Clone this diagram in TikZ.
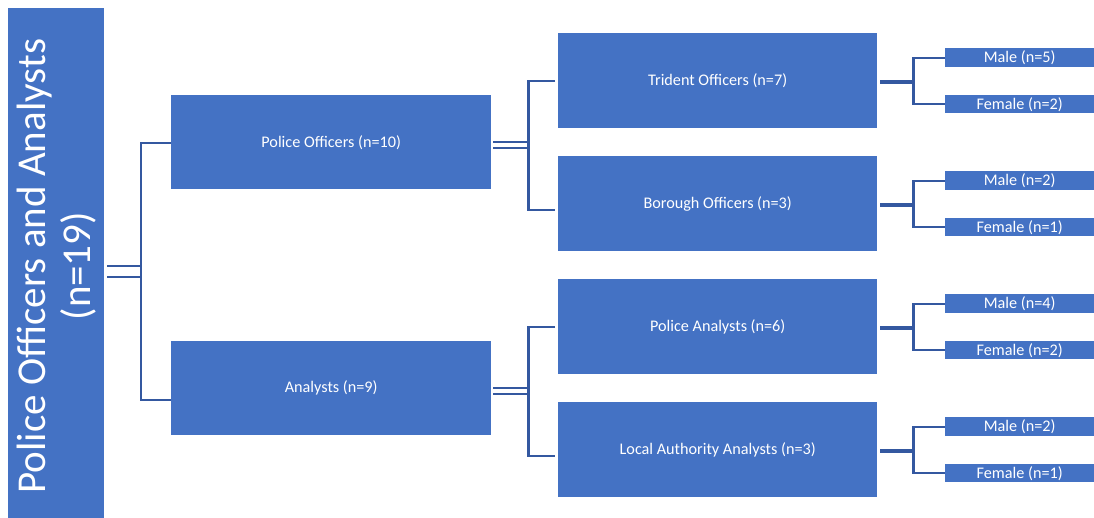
\documentclass[tikz,border=0pt]{standalone}
\usepackage{fontspec}
\setmainfont{Carlito}
\usetikzlibrary{calc}
\definecolor{boxblue}{RGB}{68,114,196}
\definecolor{linkblue}{RGB}{52,88,160}
\tikzset{
  x=1pt, y=-1pt,
  box/.style={fill=boxblue, draw=none, text=white, inner sep=0pt, anchor=north west, font=\fontsize{16.2}{18}\selectfont},
  link/.style={draw=linkblue, line width=2.2pt},
  thicklink/.style={draw=linkblue, line width=3.6pt},
}
\begin{document}
\begin{tikzpicture}
\useasboundingbox (0,0) rectangle (1094,517);

% root
\node[box, minimum width=96pt, minimum height=512pt] (root) at (8,8) {};
\node[text=white, rotate=90, align=center, font=\fontsize{41}{45}\selectfont] (roottext) at ([yshift=-2pt]root.center) {Police Officers and Analysts\\(n=19)};

% level 1
\node[box, minimum width=320pt, minimum height=94pt] (po) at (171,95) {Police Officers (n=10)};
\node[box, minimum width=320pt, minimum height=94pt] (an) at (171,341) {Analysts (n=9)};

% level 2
\foreach \n/\t/\y in {tr/Trident Officers (n=7)/33, bo/Borough Officers (n=3)/156, pa/Police Analysts (n=6)/279, la/Local Authority Analysts (n=3)/402}{
  \node[box, minimum width=319pt, minimum height=95pt] (\n) at (558,\y) {\t};
}

% leaves
\foreach \n/\m/\f/\y in {tr/5/2/48, bo/2/1/171, pa/4/2/294, la/2/1/417}{
  \node[box, minimum width=149pt, minimum height=19pt] (\n m) at (945,\y) {Male (n=\m)};
  \node[box, minimum width=149pt, minimum height=18pt] (\n f) at (945,\y+47) {Female (n=\f)};
}

% root connector
\coordinate (j0) at (141,271.5);
\draw[link] ([xshift=3pt]root.east |- 0,266) -- (j0 |- 0,266);
\draw[link] ([xshift=3pt]root.east |- 0,277) -- (j0 |- 0,277);
\draw[link] (po.west |- 0,143) -| (j0) |- (an.west |- 0,400);

% level 1 connectors
\foreach \p/\a/\b in {po/tr/bo, an/pa/la}{
  \coordinate (j\p) at ($(\p.east)+(37,0)$);
  \draw[link] ([xshift=2pt]\p.east) -- (j\p |- \p.east);
  \draw[link] ([xshift=2pt,yshift=-6pt]\p.east) -- ([yshift=-6pt]j\p |- \p.east);
  \draw[link] ([xshift=-3pt]\a.west) -| (j\p) |- ([xshift=-3pt,yshift=-6pt]\b.west);
}

% level 2 connectors
\foreach \n in {tr, bo, pa, la}{
  \coordinate (k\n) at ($(\n.east)+(36,0)$);
  \draw[thicklink] ([xshift=3pt,yshift=-1pt]\n.east) -- ([yshift=-1pt]k\n |- \n.east);
  \draw[link] (\n m.west) -| (k\n) |- (\n f.west);
}
\end{tikzpicture}
\end{document}
